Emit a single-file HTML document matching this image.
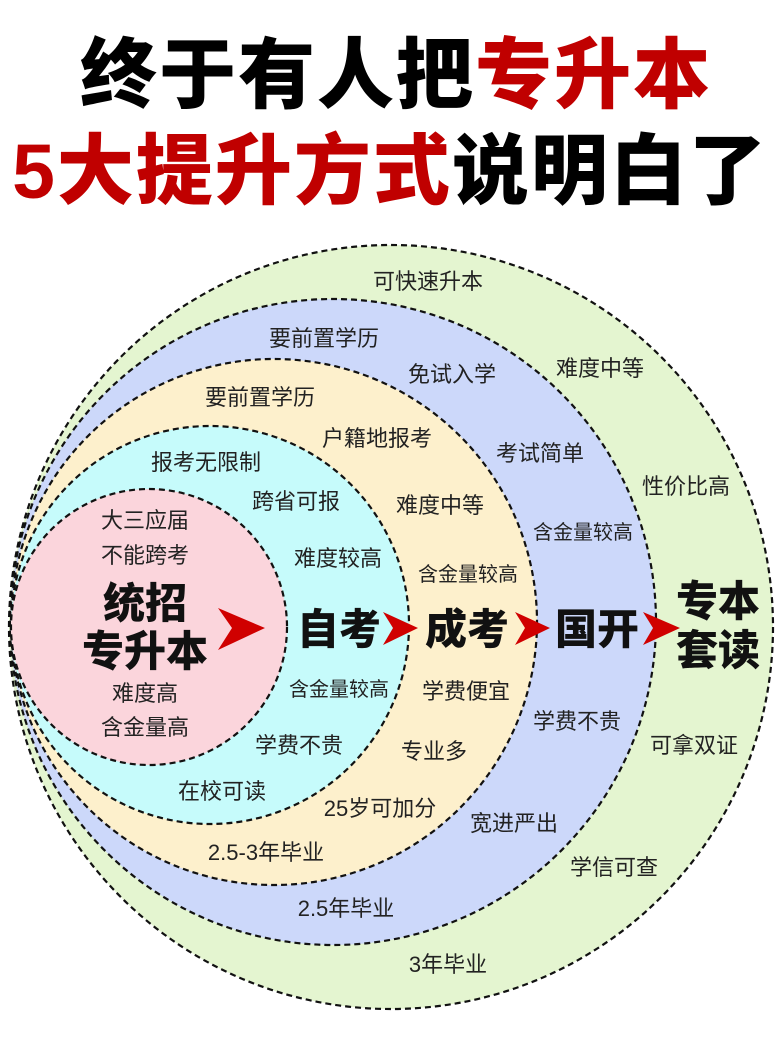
<!DOCTYPE html>
<html><head><meta charset="utf-8"><style>
body{margin:0;width:780px;height:1043px;background:#fff;overflow:hidden;font-family:"Liberation Sans","Noto Sans CJK SC",sans-serif}
.t{position:absolute;left:0;width:780px;text-align:center;font-weight:900;font-size:77px;line-height:80px;letter-spacing:2px}
svg{position:absolute;left:0;top:0}
</style></head><body>
<div class="t" style="top:36px;left:6px">终于有人把<span style="color:#c00000">专升本</span></div>
<div class="t" style="top:132px"><span style="color:#c00000">5大提升方式</span>说明白了</div>
<svg width="780" height="1043" font-family="Liberation Sans, Noto Sans CJK SC, sans-serif">
<g stroke="#111" stroke-width="2.2" stroke-dasharray="6,4">
<circle cx="391" cy="627" r="382" fill="#e4f5d0"/>
<circle cx="333" cy="622" r="323" fill="#ccd8fa"/>
<circle cx="274" cy="622" r="263" fill="#fdf0cc"/>
<circle cx="210" cy="625" r="199" fill="#c6fbfb"/>
<circle cx="149" cy="627" r="138" fill="#fbd5dc"/>
</g>
<g fill="#d00000">
<path d="M218,608 L265,628 L218,650 L232,628 Z"/>
<path d="M383,612 L418,628 L383,645 L393,628 Z"/>
<path d="M515,612 L550,628 L515,645 L525,628 Z"/>
<path d="M643,612 L680,628 L643,645 L653,628 Z"/>
</g>
<g font-size="22" fill="#222" text-anchor="middle">
<text x="428" y="289">可快速升本</text>
<text x="600" y="376">难度中等</text>
<text x="686" y="494">性价比高</text>
<text x="694" y="753">可拿双证</text>
<text x="614" y="875">学信可查</text>
<text x="448" y="972">3年毕业</text>
<text x="324" y="346">要前置学历</text>
<text x="452" y="382">免试入学</text>
<text x="540" y="461">考试简单</text>
<text x="583" y="539" font-size="20">含金量较高</text>
<text x="577" y="729">学费不贵</text>
<text x="514" y="831">宽进严出</text>
<text x="346" y="916">2.5年毕业</text>
<text x="260" y="405">要前置学历</text>
<text x="377" y="446">户籍地报考</text>
<text x="440" y="513">难度中等</text>
<text x="468" y="581" font-size="20">含金量较高</text>
<text x="466" y="699">学费便宜</text>
<text x="434" y="759">专业多</text>
<text x="380" y="816">25岁可加分</text>
<text x="266" y="860">2.5-3年毕业</text>
<text x="206" y="470">报考无限制</text>
<text x="296" y="509">跨省可报</text>
<text x="338" y="566">难度较高</text>
<text x="339" y="696" font-size="20">含金量较高</text>
<text x="299" y="753">学费不贵</text>
<text x="222" y="799">在校可读</text>
<text x="145" y="528">大三应届</text>
<text x="145" y="563">不能跨考</text>
<text x="145" y="701">难度高</text>
<text x="145" y="735">含金量高</text>
</g>
<g font-weight="900" fill="#111" text-anchor="middle" font-size="42">
<text x="145" y="618">统招</text>
<text x="145" y="666">专升本</text>
<text x="339" y="644">自考</text>
<text x="467" y="644">成考</text>
<text x="597" y="644">国开</text>
<text x="718" y="616">专本</text>
<text x="718" y="665">套读</text>
</g>
</svg>
</body></html>
